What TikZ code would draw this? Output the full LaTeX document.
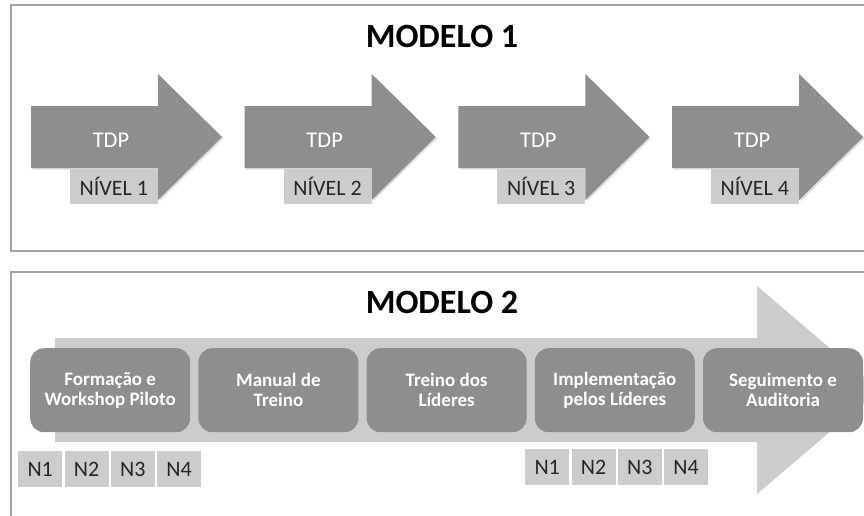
\documentclass[tikz,border=0pt]{standalone}
\usepackage{fontspec}
\setmainfont{Carlito}
\usetikzlibrary{shadows}
\definecolor{dark}{HTML}{8E8E8E}
\definecolor{light}{HTML}{CCCCCC}
\definecolor{frame}{HTML}{A3A3A3}
\definecolor{ink}{HTML}{262626}
\tikzset{
  panel/.style={draw=frame, line width=1.2pt, fill=white},
  bigarrow/.style={fill=dark, drop shadow={opacity=0.25, shadow xshift=1.5pt, shadow yshift=-1.5pt}},
  tdplabel/.style={text=white, font=\fontsize{22.5}{26}\selectfont, anchor=base},
  levelbox/.style={fill=light, text=ink, font=\fontsize{22}{26}\selectfont, minimum height=35pt, inner sep=0pt},
  stagebox/.style={fill=dark, rounded corners=14pt, minimum width=160pt, minimum height=84pt, inner sep=0pt,
                   text=white, font=\bfseries\fontsize{19}{20}\selectfont, align=center},
  nbox/.style={fill=light, text=ink, font=\fontsize{22}{26}\selectfont, minimum width=44pt, minimum height=36pt, inner sep=0pt},
  title/.style={font=\bfseries\fontsize{34}{38}\selectfont, text=black, anchor=base}
}
\begin{document}
\begin{tikzpicture}[x=1pt,y=-1pt]
\useasboundingbox (0,0) rectangle (864,515);
\clip (0,0) rectangle (864,515);
\fill[white] (0,0) rectangle (864,515);

% first panel: four separate arrows
\draw[panel] (11,5) rectangle (880,251);
\node[title] (t1) at (442,47) {MODELO 1};
\foreach \i in {1,...,4} {
  \pgfmathsetmacro{\x}{31+213.7*(\i-1)}
  \fill[bigarrow] (\x,106) -- ++(127,0) -- ++(0,-32) -- ++(64,63) -- ++(-64,63) -- ++(0,-32) -- ++(-127,0) -- cycle;
  \node[tdplabel] (tdp\i) at (\x+80,147) {TDP};
  \node[levelbox, minimum width=88pt, anchor=north east] (niv\i) at (\x+127,169) {NÍVEL \i};
}

% second panel: one long arrow carrying five stages
\draw[panel] (11,272) rectangle (880,530);
\node[title] (t2) at (442,313) {MODELO 2};
\fill[light] (55,338) -- (757,338) -- (757,286) -- (879,390) -- (757,494) -- (757,442) -- (55,442) -- cycle;

\node[stagebox, anchor=north west] (s1) at (30,348) {Formação e\\Workshop Piloto};
\node[stagebox, anchor=north west] (s2) at (198.2,348) {Manual de\\Treino};
\node[stagebox, anchor=north west] (s3) at (366.4,348) {Treino dos\\Líderes};
\node[stagebox, anchor=north west] (s4) at (534.6,348) {Implementação\\pelos Líderes};
\node[stagebox, anchor=north west] (s5) at (702.8,348) {Seguimento e\\Auditoria};

\foreach \i in {1,...,4} {
  \node[nbox, anchor=north west] (a\i) at (18+46.3*\i-46.3,451) {N\i};
  \node[nbox, anchor=north west] (b\i) at (525+46.3*\i-46.3,449) {N\i};
}
\end{tikzpicture}
\end{document}
